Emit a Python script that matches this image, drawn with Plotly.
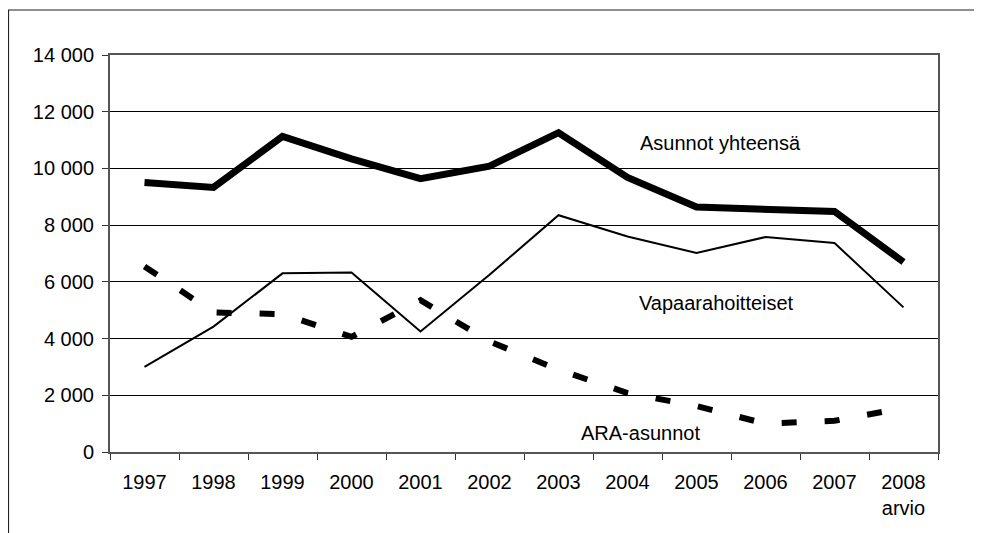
import plotly.graph_objects as go

# vuodet ja sarjat (luettu kuvasta)
vuodet = ["1997", "1998", "1999", "2000", "2001", "2002",
          "2003", "2004", "2005", "2006", "2007", "2008<br>arvio"]
yhteensa = [9500, 9330, 11130, 10340, 9640, 10080, 11260, 9680, 8640, 8570, 8480, 6700]
vapaarahoitteiset = [3000, 4420, 6300, 6330, 4250, 6250, 8350, 7600, 7020, 7580, 7370, 5100]
ara = [6540, 4920, 4860, 4060, 5350, 3900, 2900, 2080, 1620, 1000, 1100, 1550]

fontti = "Liberation Sans, Arial, sans-serif"

fig = go.Figure()

fig.add_trace(go.Scatter(x=vuodet, y=yhteensa, mode="lines",
                         line=dict(color="black", width=7)))
fig.add_trace(go.Scatter(x=vuodet, y=vapaarahoitteiset, mode="lines",
                         line=dict(color="black", width=2)))
fig.add_trace(go.Scatter(x=vuodet, y=ara, mode="lines",
                         line=dict(color="black", width=6, dash="15px,28px")))

# sarjojen nimet suoraan kuvaan
nimet = [("Asunnot yhteensä", 0.737, 0.778),
         ("Vapaarahoitteiset", 0.733, 0.375),
         ("ARA-asunnot", 0.641, 0.048)]
for teksti, x, y in nimet:
    fig.add_annotation(text=teksti, x=x, y=y, xref="paper", yref="paper",
                       xanchor="center", yanchor="middle",
                       showarrow=False, font=dict(size=20, color="black"))

# ulkokehys (vain vasen ja ylä näkyvät)
fig.add_shape(type="rect", xref="paper", yref="paper",
              x0=-0.1226, x1=1.2, y0=-0.4, y1=1.1134,
              line=dict(color="#222222", width=1.2))

fig.update_xaxes(
    type="category", range=[-0.5, 11.5], tickson="boundaries",
    ticks="outside", ticklen=6, tickcolor="#333333", showgrid=False,
    showline=True, linecolor="#555555", linewidth=2, mirror=True,
    tickfont=dict(size=20, color="black"), ticklabelstandoff=11,
)
fig.update_yaxes(
    range=[0, 14000], dtick=2000, tickformat=",d",
    ticks="outside", ticklen=6, tickcolor="#333333",
    showgrid=True, gridcolor="black", gridwidth=1,
    showline=True, linecolor="#555555", linewidth=2, mirror=True,
    tickfont=dict(size=20, color="black"), zeroline=False,
    ticklabelstandoff=4,
)

# sivun oletusmarginaali (8 px) huomioitu
fig.update_layout(
    width=974, height=525,
    margin=dict(l=102, r=44, t=47, b=81),
    separators=", ",
    showlegend=False,
    plot_bgcolor="white", paper_bgcolor="white",
    font=dict(family=fontti, color="black"),
)

fig.write_html("out.html")
